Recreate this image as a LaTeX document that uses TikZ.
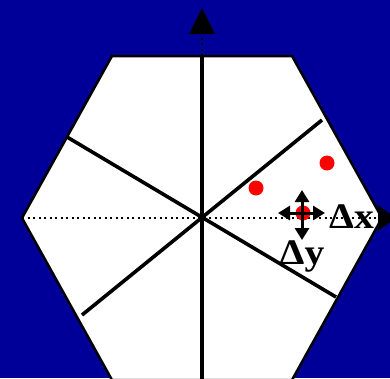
\documentclass[tikz,border=0pt]{standalone}
\usepackage{fontspec}
\setmainfont{Liberation Serif}
\usetikzlibrary{arrows.meta}
\definecolor{bgblue}{RGB}{0,0,153}
\definecolor{dotred}{RGB}{255,0,0}
\tikzset{
  axisline/.style={line width=3.6pt, black},
  dotaxis/.style={line width=2pt, black, dash pattern=on 2pt off 3.5pt},
  smallarrow/.style={line width=3pt, black, {Triangle[length=12pt,width=14pt]}-{Triangle[length=12pt,width=14pt]}},
  reddot/.style={circle, fill=dotred, minimum size=15pt, inner sep=0pt},
  deltalabel/.style={font=\fontsize{36}{36}\selectfont\bfseries, inner sep=0pt, text=black, xscale=1.1}
}
\begin{document}
\begin{tikzpicture}[x=1pt,y=-1pt]
\useasboundingbox (0,0) rectangle (390,378);
\clip (0,0) rectangle (390,378);
\fill[bgblue] (0,0) rectangle (390,378);
% hexagon
\coordinate (O) at (202,218);
\coordinate (L) at (22,218);
\coordinate (TL) at (112,56);
\coordinate (TR) at (292,56);
\coordinate (R) at (382,218);
\coordinate (BR) at (292,380);
\coordinate (BL) at (112,380);
\draw[fill=white, line width=2.5pt, line join=miter] (L) -- (TL) -- (TR) -- (R) -- (BR) -- (BL) -- cycle;
% vertical axis
\coordinate (VT) at (202,56);
\coordinate (VB) at (202,382);
\draw[axisline] (VT) -- (VB);
\draw[dotaxis] (VT) -- (202,34);
\fill[black] (202,8) -- (215,34) -- (189,34) -- cycle;
% horizontal axis
\coordinate (HR) at (378,218);
\draw[dotaxis] (L) -- (HR);
\fill[black] (396,218) -- (378,205) -- (378,231) -- cycle;
% diagonal lines
\coordinate (D1a) at (322,120);
\coordinate (D1b) at (82,315);
\coordinate (D2a) at (67,137);
\coordinate (D2b) at (336,297);
\draw[axisline] (D1a) -- (D1b);
\draw[axisline] (D2a) -- (D2b);
% red dots
\node[reddot] (p1) at (256,188) {};
\node[reddot] (p2) at (327,163) {};
\node[reddot] (p3) at (303,213) {};
% small arrows
\coordinate (sxl) at (278,213);
\coordinate (sxr) at (325,213);
\coordinate (syt) at (302,190);
\coordinate (syb) at (302,240);
\draw[smallarrow] (sxl) -- (sxr);
\draw[smallarrow] (syt) -- (syb);
% labels
\node[deltalabel, anchor=base west] (dx) at (329,228) {Δx};
\node[deltalabel, anchor=base] (dy) at (302,264) {Δy};
\end{tikzpicture}
\end{document}
